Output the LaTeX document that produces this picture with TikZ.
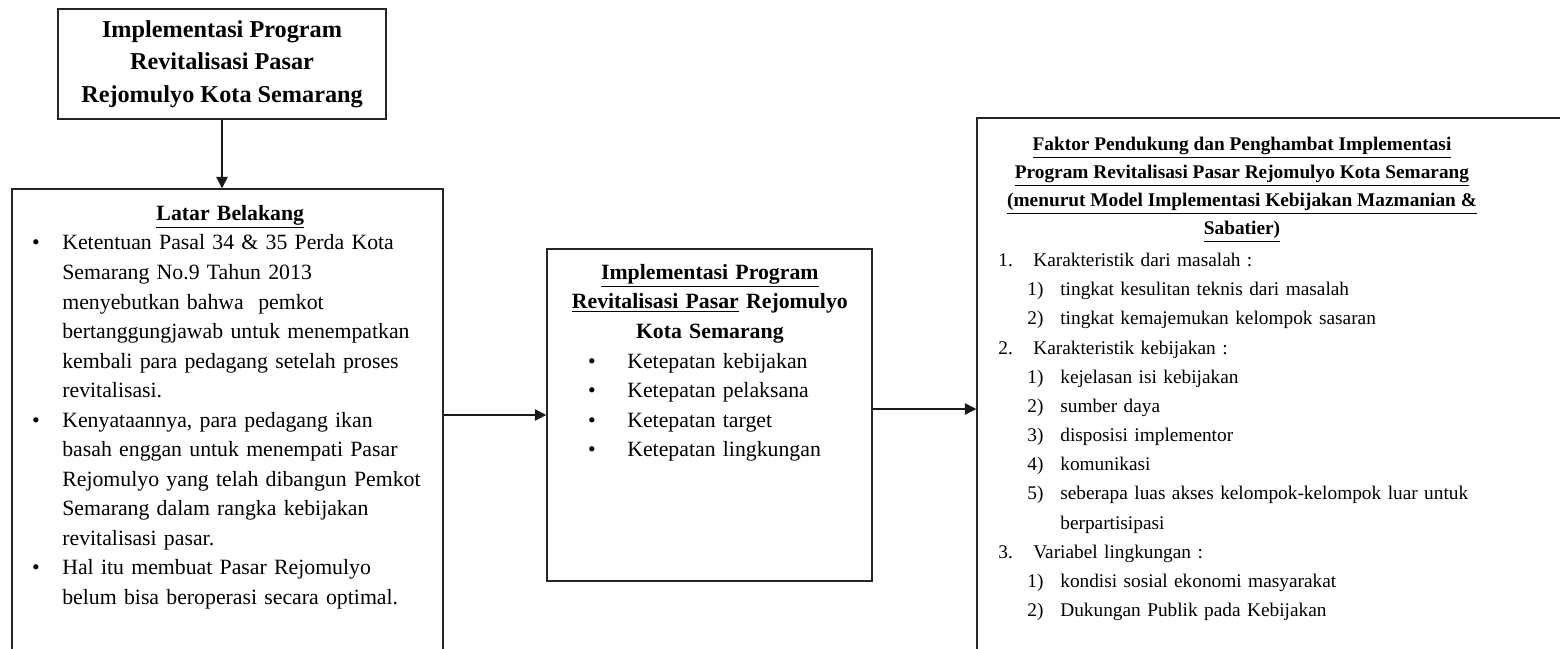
\documentclass[tikz,border=0pt]{standalone}
\usepackage{fontspec}
\setmainfont{Liberation Serif}
\usepackage{enumitem}
\setlist{nosep}
\usetikzlibrary{arrows.meta,positioning}

\begin{document}
\begin{tikzpicture}[x=0.02cm,y=-0.02cm,
    kotak/.style={draw=black!85, line width=0.9pt, inner sep=0pt},
    isi/.style={inner sep=0pt, anchor=north west, font=\fontsize{12.4}{16.8}\selectfont},
    panah/.style={-{Triangle[length=6.5pt,width=6.5pt]}, line width=0.8pt, black!90}]
  \useasboundingbox (0,0) rectangle (1560,649);
  \clip (0,0) rectangle (1560,649);

  % kotak-kotak
  \node[kotak, minimum width=6.56cm, minimum height=2.2cm, align=center,
        font=\bfseries\fontsize{13.8}{18.5}\selectfont] (judul) at (222,64)
        {Implementasi Program\\Revitalisasi Pasar\\Rejomulyo Kota Semarang};
  \node[kotak, minimum width=8.62cm, minimum height=10.22cm] (latar) at (227.5,444.5) {};
  \node[kotak, minimum width=6.5cm, minimum height=6.64cm] (impl) at (709.5,415) {};
  \node[kotak, minimum width=12.86cm, minimum height=11.64cm] (faktor) at (1298.5,409) {};

  % isi latar belakang
  \node[isi, text width=8.4cm] (latarisi) at (20,205) {%
    {\centering\bfseries\underline{Latar Belakang}\par}
    \begin{itemize}[leftmargin=0.84cm, labelsep=0.45cm]
      \item Ketentuan Pasal 34 \& 35 Perda Kota\\ Semarang No.9 Tahun 2013\\
            menyebutkan bahwa\ \ pemkot\\ bertanggungjawab untuk menempatkan\\
            kembali para pedagang setelah proses\\ revitalisasi.
      \item Kenyataannya, para pedagang ikan\\ basah enggan untuk menempati Pasar\\
            Rejomulyo yang telah dibangun Pemkot\\ Semarang dalam rangka kebijakan\\
            revitalisasi pasar.
      \item Hal itu membuat Pasar Rejomulyo\\ belum bisa beroperasi secara optimal.
    \end{itemize}};

  % isi implementasi
  \node[isi, text width=5.98cm] (implisi) at (560,264) {%
    {\centering\bfseries\underline{Implementasi Program}\\
     \underline{Revitalisasi Pasar} Rejomulyo\\ Kota Semarang\par}
    \begin{itemize}[leftmargin=1.34cm, labelsep=0.63cm]
      \item Ketepatan kebijakan
      \item Ketepatan pelaksana
      \item Ketepatan target
      \item Ketepatan lingkungan
    \end{itemize}};

  % isi faktor
  \node[isi, anchor=north, align=center, font=\bfseries\fontsize{11}{16}\selectfont]
        (faktorjudul) at (1242,136.5) {%
     \underline{Faktor Pendukung dan Penghambat Implementasi}\\
     \underline{Program Revitalisasi Pasar Rejomulyo Kota Semarang}\\
     \underline{(menurut Model Implementasi Kebijakan Mazmanian \&}\\
     \underline{Sabatier)}};
  \node[isi, text width=10.5cm, font=\fontsize{11}{16.6}\selectfont] (faktorisi) at (990,237) {%
    \begin{enumerate}[label=\arabic*., leftmargin=0.86cm, labelwidth=0.5cm, labelsep=0.2cm, align=left]
      \item Karakteristik dari masalah :
      \begin{enumerate}[label=\arabic*), leftmargin=0.54cm, labelwidth=0.48cm, labelsep=0.18cm, align=left]
        \item tingkat kesulitan teknis dari masalah
        \item tingkat kemajemukan kelompok sasaran
      \end{enumerate}
      \item Karakteristik kebijakan :
      \begin{enumerate}[label=\arabic*), leftmargin=0.54cm, labelwidth=0.48cm, labelsep=0.18cm, align=left]
        \item kejelasan isi kebijakan
        \item sumber daya
        \item disposisi implementor
        \item komunikasi
        \item seberapa luas akses kelompok-kelompok luar untuk\\ berpartisipasi
      \end{enumerate}
      \item Variabel lingkungan :
      \begin{enumerate}[label=\arabic*), leftmargin=0.54cm, labelwidth=0.48cm, labelsep=0.18cm, align=left]
        \item kondisi sosial ekonomi masyarakat
        \item Dukungan Publik pada Kebijakan
      \end{enumerate}
    \end{enumerate}};

  % panah
  \draw[panah] (judul.south) -- (judul.south |- latar.north);
  \draw[panah] (latar.east |- impl.west) -- (impl.west);
  \draw[panah] (faktor.west -| impl.east) -- (faktor.west);
\end{tikzpicture}
\end{document}
